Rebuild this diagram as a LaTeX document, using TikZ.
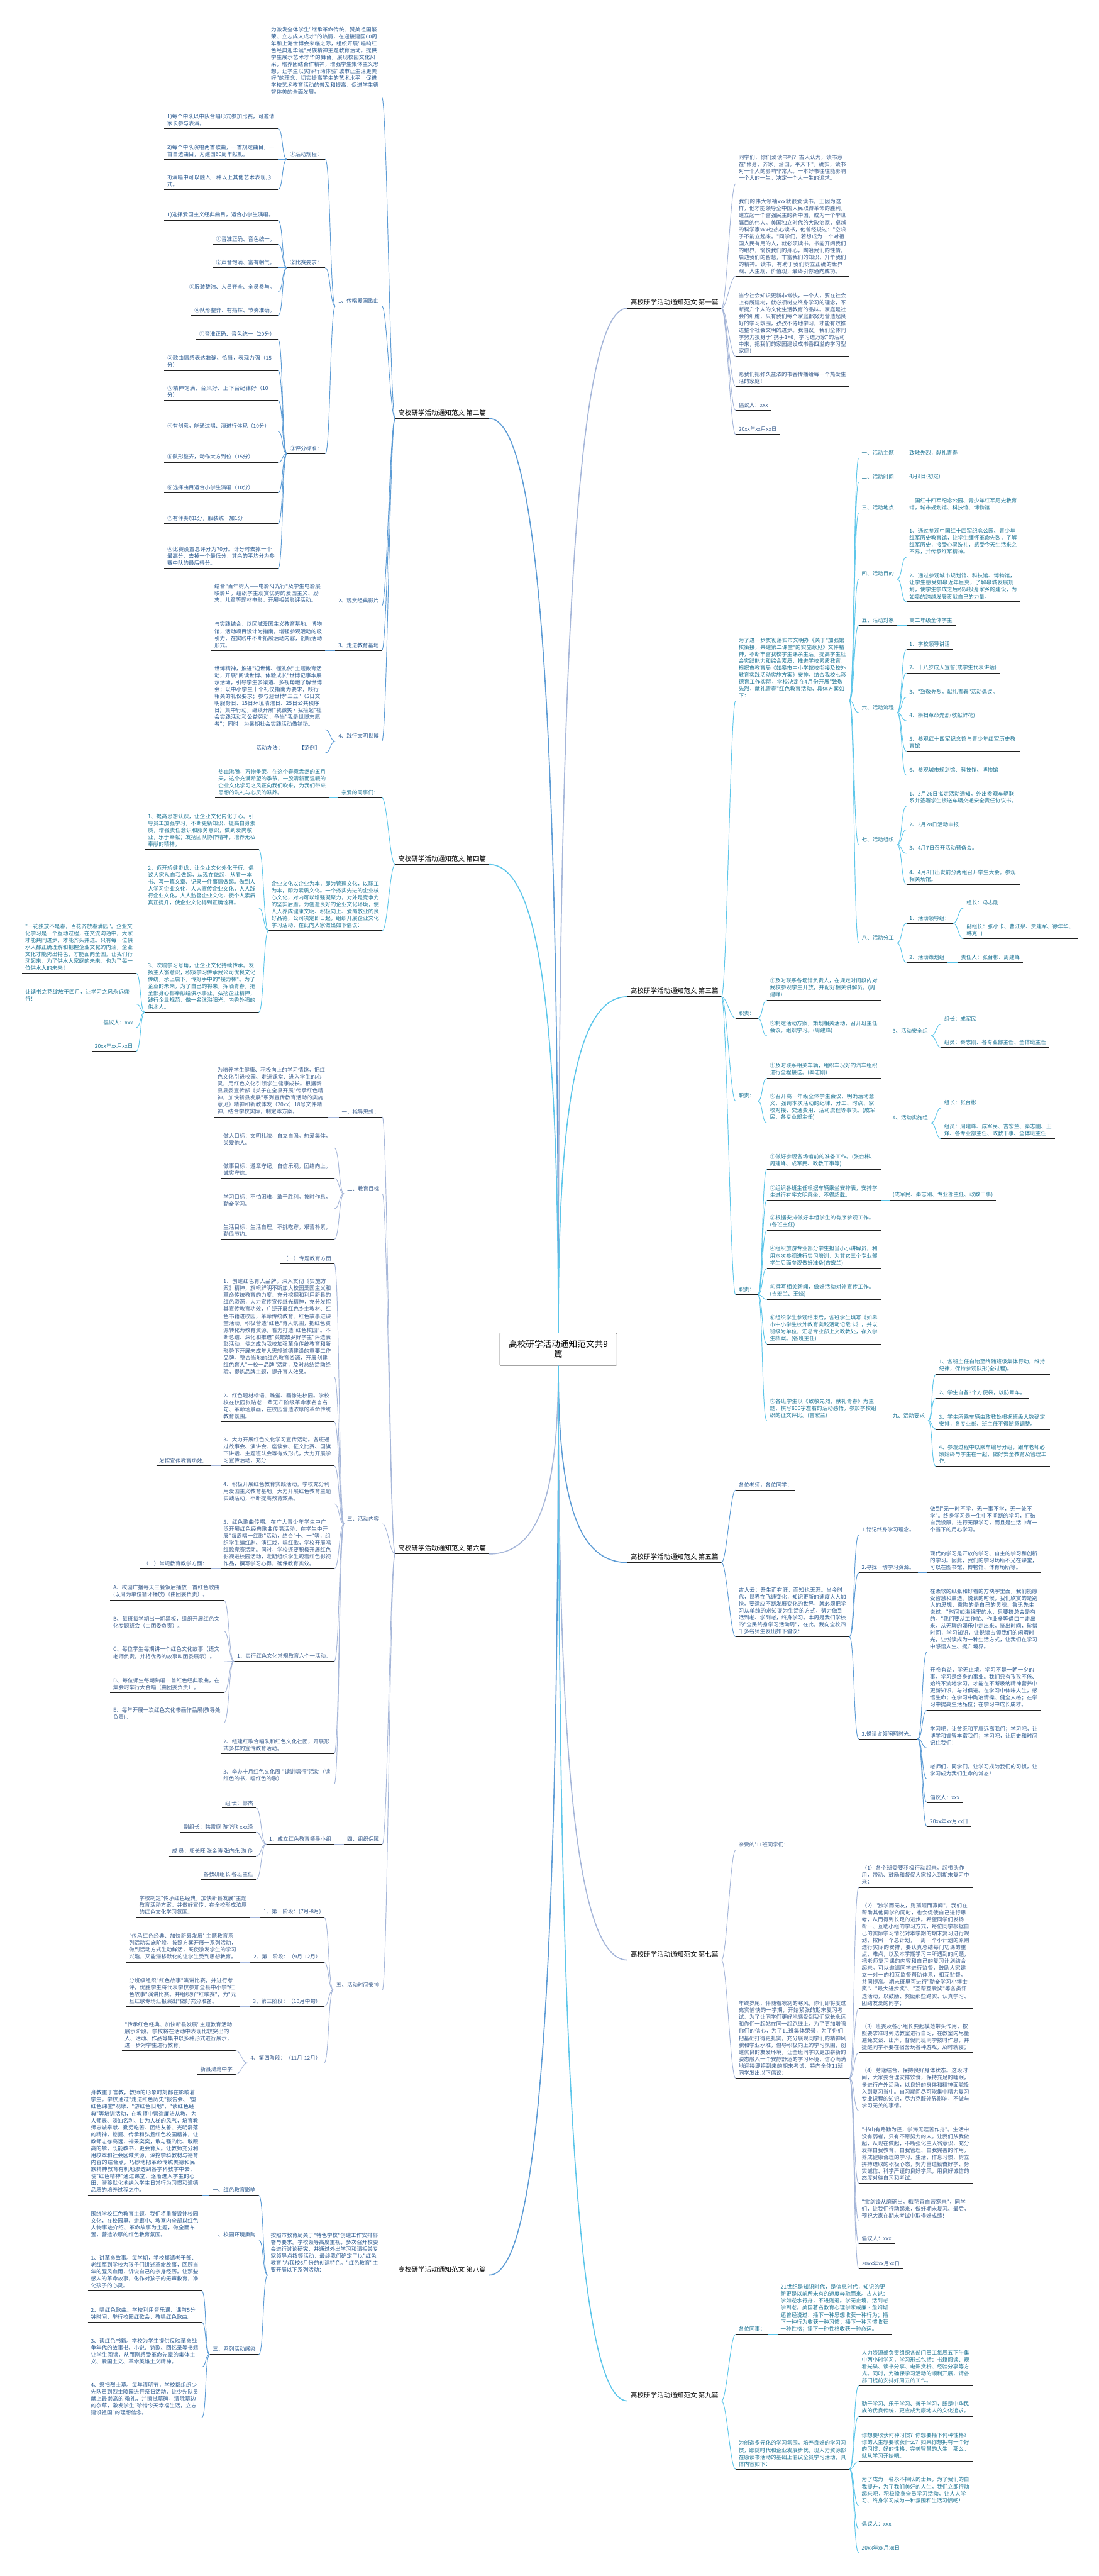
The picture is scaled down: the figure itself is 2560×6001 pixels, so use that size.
\documentclass[tikz,border=0pt]{standalone}
\usepackage{fontspec}
\setmainfont{Noto Sans CJK SC}
\newfontfamily\cjk{Noto Sans CJK SC}
\XeTeXlinebreaklocale "zh"
\XeTeXlinebreakskip=0pt plus 1pt
\newcommand\lf{\cjk\fontsize{12.5}{16.2}\selectfont}
\newcommand\labf{\cjk\fontsize{15.5}{19}\selectfont}
\newcommand\cf{\cjk\fontsize{20}{24}\selectfont}
\definecolor{cB}{HTML}{5B9BD5}
\definecolor{cC}{HTML}{5CC6EA}
\definecolor{cG}{HTML}{A5B6D9}
\definecolor{tB}{HTML}{2B5B92}
\definecolor{tC}{HTML}{1F7696}
\definecolor{tG}{HTML}{3B5E8E}
\newcommand\kR[3]{\draw[#3] (#1.south east) .. controls ([xshift=12pt]#1.south east) and ([xshift=-12pt]#2.south west) .. (#2.south west);}
\newcommand\kL[3]{\draw[#3] (#1.south west) .. controls ([xshift=-12pt]#1.south west) and ([xshift=12pt]#2.south east) .. (#2.south east);}
\tikzset{
 uline/.style={line width=1.5pt, draw=black!88},
 base/.style={inner xsep=7pt, inner ysep=6pt, align=left, font=\lf, append after command={(\tikzlastnode.south west) edge[uline] (\tikzlastnode.south east)}},
 R/.style={base, anchor=south west},
 L/.style={base, anchor=south east},
 tw/.style={text width=251pt},
 tww/.style={text width=#1},
 lab/.style={font=\labf, text=black},
 tb/.style={text=tB}, tc/.style={text=tC}, tg/.style={text=tG},
 kb/.style={draw=cB, line width=1.4pt},
 kc/.style={draw=cC, line width=1.4pt},
 kg/.style={draw=cG, line width=1.4pt},
 brb/.style={draw=cB, line width=2.4pt},
 brc/.style={draw=cC, line width=2.4pt},
 brg/.style={draw=cG, line width=2.4pt},
}
\begin{document}
\begin{tikzpicture}[x=1pt,y=1pt]
\fill[white] (0,0) rectangle (2560,-6001);
\useasboundingbox (0,0) rectangle (2560,-6001);

% ---------- center ----------
\node[draw=black!55, line width=1pt, rounded corners=2pt, minimum width=273pt, minimum height=76pt, font=\cf, align=center, inner sep=6pt] (C) at (1301,-3143) {高校研学活动通知范文共9\\篇};

% ---------- branch labels ----------
\node[R,lab] (L1) at (1462,-718) {高校研学活动通知范文 第一篇};
\node[L,lab] (L2) at (1140,-975) {高校研学活动通知范文 第二篇};
\node[R,lab] (L3) at (1462,-2322) {高校研学活动通知范文 第三篇};
\node[L,lab] (L4) at (1140,-2014) {高校研学活动通知范文 第四篇};
\node[R,lab] (L5) at (1462,-3640) {高校研学活动通知范文 第五篇};
\node[L,lab] (L6) at (1140,-3620) {高校研学活动通知范文 第六篇};
\node[R,lab] (L7) at (1462,-4566) {高校研学活动通知范文 第七篇};
\node[L,lab] (L8) at (1140,-5300) {高校研学活动通知范文 第八篇};
\node[R,lab] (L9) at (1462,-5593) {高校研学活动通知范文 第九篇};

\draw[brg] (C.north) .. controls +(0,1552) and +(-121,0) .. (L1.south west);
\draw[brb] (C.north) .. controls +(0,1385) and +(121,0) .. (L2.south east);
\draw[brc] (C.north) .. controls +(0,509) and +(-121,0) .. (L3.south west);
\draw[brc] (C.north) .. controls +(0,709) and +(121,0) .. (L4.south east);
\draw[brb] (C.south) .. controls +(0,-298) and +(-121,0) .. (L5.south west);
\draw[brg] (C.south) .. controls +(0,-285) and +(121,0) .. (L6.south east);
\draw[brg] (C.south) .. controls +(0,-900) and +(-121,0) .. (L7.south west);
\draw[brb] (C.south) .. controls +(0,-1377) and +(121,0) .. (L8.south east);
\draw[brc] (C.south) .. controls +(0,-1568) and +(-121,0) .. (L9.south west);

% ---------- 第一篇 ----------
\node[R,tg,tw] (a1) at (1714,-428) {同学们，你们爱读书吗？古人认为，读书意在"修身，齐家，治国，平天下"。确实，读书对一个人的影响非常大。一本好书往往能影响一个人的一生，决定一个人一生的追求。};
\node[R,tg,tw] (a2) at (1714,-644) {我们的伟大领袖xxx就很爱读书。正因为这样，他才能领导全中国人民取得革命的胜利，建立起一个富强民主的新中国，成为一个举世瞩目的伟人。美国独立时代的大政治家，卓越的科学家xxx也热心读书，他曾经说过："空袋子不能立起来。"同学们，若想成为一个对祖国人民有用的人，就必须读书。书能开阔我们的眼界，愉悦我们的身心，陶冶我们的性情，启迪我们的智慧，丰富我们的知识，升华我们的精神。读书，有助于我们树立正确的世界观、人生观、价值观，最终引你通向成功。};
\node[R,tg,tw] (a3) at (1714,-830) {当今社会知识更新非常快，一个人，要在社会上有所建树，就必须树立终身学习的理念，不断提升个人的文化生活教育的品味。家庭是社会的细胞，只有我们每个家庭都努力营造起良好的学习氛围，孜孜不倦地学习，才能有效推进整个社会文明的进步。我倡议，我们全体同学努力投身于"携手1+6，学习进万家"的活动中来，把我们的家园建设成书香四溢的学习型家庭！};
\node[R,tg,tw] (a4) at (1714,-900) {愿我们把弥久益浓的书香传播给每一个热爱生活的家庭！};
\node[R,tg] (a5) at (1714,-956) {倡议人：xxx};
\node[R,tg] (a6) at (1714,-1012) {20xx年xx月xx日};
\foreach \n in {a1,a2,a3,a4,a5,a6} {\kR{L1}{\n}{kg}}

% ---------- 第三篇 ----------
\node[R,tc,tw] (b0) at (1714,-1633) {为了进一步贯彻落实市文明办《关于"加强馆校衔接，共建第二课堂"的实施意见》文件精神，不断丰富我校学生课余生活，提高学生社会实践能力和综合素质，推进学校素质教育，根据市教育局《如皋市中小学馆校衔接及校外教育实践活动实施方案》安排，结合我校七彩德育工作实际，学校决定在4月份开展"致敬先烈，献礼青春"红色教育活动，具体方案如下：};
\node[R,tc] (t1) at (2001,-1067) {一、活动主题};
\node[R,tc] (t1a) at (2112,-1067) {致敬先烈，献礼青春};
\node[R,tc] (t2) at (2001,-1123) {二、活动时间};
\node[R,tc] (t2a) at (2112,-1123) {4月8日(初定)};
\node[R,tc] (t3) at (2001,-1195) {三、活动地点};
\node[R,tc,tw] (t3a) at (2112,-1195) {中国红十四军纪念公园、青少年红军历史教育馆，城市规划馆、科技馆、博物馆};
\node[R,tc] (t4) at (2001,-1349) {四、活动目的};
\node[R,tc,tw] (t4a) at (2112,-1298) {1、通过参观中国红十四军纪念公园、青少年红军历史教育馆，让学生缅怀革命先烈，了解红军历史，接受心灵洗礼，感受今天生活来之不易，并传承红军精神。};
\node[R,tc,tw] (t4b) at (2112,-1402) {2、通过参观城市规划馆、科技馆、博物馆，让学生感受如皋近年巨变，了解皋城发展规划，使学生学成之后积极投身家乡的建设，为如皋的跨越发展贡献自己的力量。};
\node[R,tc] (t5) at (2001,-1457) {五、活动对象};
\node[R,tc] (t5a) at (2112,-1457) {高二年级全体学生};
\node[R,tc] (t6) at (2001,-1660) {六、活动流程};
\node[R,tc] (t6a) at (2112,-1513) {1、学校领导讲话};
\node[R,tc] (t6b) at (2112,-1568) {2、十八岁成人宣誓(或学生代表讲话)};
\node[R,tc] (t6c) at (2112,-1624) {3、"致敬先烈，献礼青春"活动倡议。};
\node[R,tc] (t6d) at (2112,-1679) {4、祭扫革命先烈(敬献鲜花)};
\node[R,tc,tw] (t6e) at (2112,-1750) {5、参观红十四军纪念馆与青少年红军历史教育馆};
\node[R,tc] (t6f) at (2112,-1806) {6、参观城市规划馆、科技馆、博物馆};
\node[R,tc] (t7) at (2001,-1968) {七、活动组织};
\node[R,tc,tw] (t7a) at (2112,-1878) {1、3月26日拟定活动通知，外出参观车辆联系并签署学生接送车辆交通安全责任协议书。};
\node[R,tc] (t7b) at (2112,-1933) {2、3月28日活动申报};
\node[R,tc] (t7c) at (2112,-1988) {3、4月7日召开活动预备会。};
\node[R,tc,tw] (t7d) at (2112,-2060) {4、4月8日出发前分两组召开学生大会。参观相关场馆。};
\node[R,tc] (t8) at (2001,-2197) {八、活动分工};
\node[R,tc] (t8a) at (2112,-2151) {1、活动领导组：};
\node[R,tc] (t8a1) at (2245,-2115) {组长：冯志刚};
\node[R,tc,tw] (t8a2) at (2245,-2187) {副组长：张小卡、曹江泉、贾建军、徐年华、韩克山};
\node[R,tc] (t8b) at (2112,-2242) {2、活动策划组};
\node[R,tc] (t8b1) at (2232,-2242) {责任人：张台彬、周建峰};
\kR{L3}{b0}{kc}
\foreach \n in {t1,t2,t3,t4,t5,t6,t7,t8} {\kR{b0}{\n}{kc}}
\kR{t1}{t1a}{kc} \kR{t2}{t2a}{kc} \kR{t3}{t3a}{kc} \kR{t5}{t5a}{kc}
\kR{t4}{t4a}{kc} \kR{t4}{t4b}{kc}
\foreach \n in {t6a,t6b,t6c,t6d,t6e,t6f} {\kR{t6}{\n}{kc}}
\foreach \n in {t7a,t7b,t7c,t7d} {\kR{t7}{\n}{kc}}
\kR{t8}{t8a}{kc} \kR{t8}{t8b}{kc} \kR{t8a}{t8a1}{kc} \kR{t8a}{t8a2}{kc} \kR{t8b}{t8b1}{kc}

\node[R,tc] (z1) at (1714,-2372) {职责：};
\node[R,tc,tw] (z1a) at (1787,-2330) {①及时联系各场馆负责人，在规定时间段内对我校参观学生开放，并配好相关讲解员。(周建峰)};
\node[R,tc,tw] (z1b) at (1787,-2413) {②制定活动方案，策划相关活动，召开班主任会议，组织学习。(周建峰)};
\node[R,tc] (s3) at (2073,-2413) {3、活动安全组};
\node[R,tc] (s3a) at (2193,-2386) {组长：成军民};
\node[R,tc] (s3b) at (2193,-2440) {组员：秦志刚、各专业部主任、全体班主任};
\node[R,tc] (z2) at (1714,-2565) {职责：};
\node[R,tc,tw] (z2a) at (1787,-2512) {①及时联系相关车辆，组织车况好的汽车组织进行全程接送。(秦志刚)};
\node[R,tc,tw] (z2b) at (1787,-2616) {②召开高一年级全体学生会议，明确活动意义，强调本次活动的纪律、分工、时点、家校对接、交通费用、活动流程等事项。(成军民、各专业部主任)};
\node[R,tc] (s4) at (2073,-2616) {4、活动实施组};
\node[R,tc] (s4a) at (2193,-2581) {组长：张台彬};
\node[R,tc,tw] (s4b) at (2193,-2653) {组员：周建峰、成军民、吉宏兰、秦志刚、王烽、各专业部主任、政教干事、全体班主任};
\node[R,tc] (z3) at (1714,-3016) {职责：};
\node[R,tc,tw] (z3a) at (1787,-2724) {①做好参观各场馆前的准备工作。(张台彬、周建峰、成军民、政教干事等)};
\node[R,tc,tw] (z3b) at (1787,-2796) {②组织各班主任根据车辆乘坐安排表，安排学生进行有序文明乘坐，不得超载。};
\node[R,tc] (z3b1) at (2073,-2796) {(成军民、秦志刚、专业部主任、政教干事)};
\node[R,tc,tw] (z3c) at (1787,-2867) {③根据安排做好本组学生的有序参观工作。(各班主任)};
\node[R,tc,tw] (z3d) at (1787,-2955) {④组织旅游专业部分学生担当小小讲解员，利用本次参观进行实习培训，为其它三个专业部学生后面参观做好准备(吉宏兰)};
\node[R,tc,tw] (z3e) at (1787,-3027) {⑤撰写相关新闻，做好活动对外宣传工作。(吉宏兰、王烽)};
\node[R,tc,tw] (z3f) at (1787,-3131) {⑥组织学生参观结束后，各班学生填写《如皋市中小学生校外教育实践活动记载卡》，并以班级为单位，汇总专业部上交政教处，存入学生档案。(各班主任)};
\node[R,tc,tw] (z3g) at (1787,-3310) {⑦各班学生以《致敬先烈，献礼青春》为主题，撰写600字左右的活动感悟，参加学校组织的征文评比。(吉宏兰)};
\node[R,tc] (z3h) at (2073,-3310) {九、活动要求};
\node[R,tc,tw] (z3h1) at (2181,-3202) {1、各班主任自始至终随班级集体行动，维持纪律，保持参观队形(全过程)。};
\node[R,tc] (z3h2) at (2181,-3257) {2、学生自备3个方便袋，以防晕车。};
\node[R,tc,tw] (z3h3) at (2181,-3329) {3、学生所乘车辆由政教处根据班级人数确定安排，各专业部、班主任不得随意调整。};
\node[R,tc,tw] (z3h4) at (2181,-3416) {4、参观过程中以乘车编号分组，跟车老师必须始终与学生在一起，做好安全教育及管理工作。};
\kR{L3}{z1}{kc} \kR{L3}{z2}{kc} \kR{L3}{z3}{kc}
\kR{z1}{z1a}{kc} \kR{z1}{z1b}{kc} \kR{z1b}{s3}{kc} \kR{s3}{s3a}{kc} \kR{s3}{s3b}{kc}
\kR{z2}{z2a}{kc} \kR{z2}{z2b}{kc} \kR{z2b}{s4}{kc} \kR{s4}{s4a}{kc} \kR{s4}{s4b}{kc}
\foreach \n in {z3a,z3b,z3c,z3d,z3e,z3f,z3g} {\kR{z3}{\n}{kc}}
\kR{z3b}{z3b1}{kc} \kR{z3g}{z3h}{kc}
\foreach \n in {z3h1,z3h2,z3h3,z3h4} {\kR{z3h}{\n}{kc}}

% ---------- 第五篇 ----------
\node[R,tb] (f1) at (1714,-3471) {各位老师，各位同学：};
\node[R,tb,tw] (f2) at (1714,-3813) {古人云：吾生而有涯，而知也无涯。当今时代，世界在飞速变化，知识更新的速度大大加快。要适应不断发展变化的世界，就必须把学习从单纯的求知变为生活的方式，努力做到活到老、学到老，终身学习。本周是我们学校的"全民终身学习活动周"，在此，我向全校四千多名师生发出如下倡议：};
\node[R,tb] (f2a) at (2001,-3576) {1.铭记终身学习理念。};
\node[R,tb,tw] (f2a1) at (2160,-3576) {做到"无一时不学，无一事不学，无一处不学"。终身学习是一生中不间断的学习，打破自我设限，进行无限学习，而且是生活中每一个当下的用心学习。};
\node[R,tb] (f2b) at (2001,-3664) {2.寻找一切学习资源。};
\node[R,tb,tw] (f2b1) at (2160,-3664) {现代的学习是开放的学习、自主的学习和创新的学习。因此，我们的学习场所不光在课堂，可以在图书馆、博物馆、体育场所等。};
\node[R,tb] (f2c) at (2001,-4051) {3.悦读占领闲暇时光。};
\node[R,tb,tw] (f2c1) at (2160,-3848) {在柔软的纸张和好看的方块字里面，我们能感受智慧和启迪。悦读的时候，我们欣赏的是别人的思想，熏陶的是自己的灵魂。鲁迅先生说过："时间如海绵里的水，只要挤总会是有的。"我们要从工作忙、作业多等借口中走出来，从无聊的娱乐中走出来，挤出时间，珍惜时间，学习知识，让悦读占领我们的闲暇时光，让悦读成为一种生活方式，让我们在学习中感悟人生、提升境界。};
\node[R,tb,tw] (f2c2) at (2160,-3984) {开卷有益，学无止境。学习不是一朝一夕的事，学习是终身的事业。我们只有孜孜不倦、始终不渝地学习，才能在不断吸纳精神营养中更新知识，与时俱进。在学习中体味人生，感悟生命；在学习中陶冶情操、健全人格；在学习中提高生活品位；在学习中成长成才。};
\node[R,tb,tw] (f2c3) at (2160,-4072) {学习吧，让贫乏和平庸远离我们；学习吧，让博学和睿智丰富我们；学习吧，让历史和时间记住我们！};
\node[R,tb,tw] (f2c4) at (2160,-4144) {老师们，同学们，让学习成为我们的习惯，让学习成为我们生命的常态！};
\node[R,tb] (f2c5) at (2160,-4199) {倡议人：xxx};
\node[R,tb] (f2c6) at (2160,-4255) {20xx年xx月xx日};
\kR{L5}{f1}{kb} \kR{L5}{f2}{kb}
\kR{f2}{f2a}{kb} \kR{f2}{f2b}{kb} \kR{f2}{f2c}{kb}
\kR{f2a}{f2a1}{kb} \kR{f2b}{f2b1}{kb}
\foreach \n in {f2c1,f2c2,f2c3,f2c4,f2c5,f2c6} {\kR{f2c}{\n}{kb}}

% ---------- 第七篇 ----------
\node[R,tg] (g1) at (1714,-4310) {亲爱的'11班同学们：};
\node[R,tg,tw] (g2) at (1714,-4841) {年终岁尾，伴随着凛冽的寒风，你们即将度过充实愉快的一学期，开始紧张的期末复习考试。为了让同学们更好地感受到我们家长永远和你们一起站在同一起跑线上，为了更加增强你们的信心，为了11班集体荣誉，为了你们把基础打得更扎实，充分展现同学们的精神风貌和学业水准，倡导积极向上的学习氛围，创建优良的友爱环境，让全班同学以更加崭新的姿态融入一个安静舒适的学习环境，信心满满地迎接即将到来的期末考试，特向全体11班同学发出以下倡议：};
\node[R,tg,tw] (g2a) at (2001,-4397) {（1）各个班委要积极行动起来，起带头作用，带动、鼓励和督促大家投入到期末复习中来；};
\node[R,tg,tw] (g2b) at (2001,-4679) {（2）"独学而无友，则孤陋而寡闻"，我们在帮助其他同学的同时，也会促使自己进行思考，从而得到长足的进步。希望同学们发扬一帮一、互助小组的学习方式，每位同学根据自己的实际学习情况对本学期的期末复习进行规划，按照一个总计划，一周一个小计划的原则进行实际的安排，要认真总结每门功课的重点、难点，以及本学期学习中所遇到的问题，把老师复习课的内容和自己的复习计划结合起来。可以邀请同学进行监督，鼓励大家建立一对一的相互监督帮助体系，相互监督，共同提高。期末班里可进行"勤奋学习小博士奖"、"最大进步奖"、"互帮互爱奖"等各类评选活动，以鼓励、奖励那些踏实、认真学习、团结友爱的同学；};
\node[R,tg,tw] (g2c) at (2001,-4782) {（3）班委及各小组长要起模范带头作用，按照要求准时到达教室进行自习，在教室内尽量避免交谈、出声，督促同班同学按时作息，并提醒同学不要在宿舍玩各种游戏，及时就寝；};
\node[R,tg,tw] (g2d) at (2001,-4917) {（4）劳逸结合，保持良好身体状态。这段时间，大家要合理安排饮食，保持充足的睡眠，多进行户外活动，以良好的身体和精神面貌投入到复习当中。自习期间尽可能集中精力复习专业课程的知识，尽力克服外界影响，不做与学习无关的事情。};
\node[R,tg,tw] (g2e) at (2001,-5086) {"书山有路勤为径，学海无涯苦作舟"。生活中没有弱者，只有不愿努力的人。让我们从我做起，从现在做起，不断强化主人翁意识，充分发挥自我教育、自我管理、自我完善的作用，养成健康合理的学习、生活、作息习惯，树立拼搏进取的积极心态，努力营造勤奋好学、务实诚信、科学严谨的良好学风，用良好诚信的态度对待自习和考试。};
\node[R,tg,tw] (g2f) at (2001,-5174) {"宝剑锋从磨砺出，梅花香自苦寒来"，同学们，让我们行动起来，做好期末复习。最后，预祝大家在期末考试中取得好成绩！};
\node[R,tg] (g2g) at (2001,-5227) {倡议人：xxx};
\node[R,tg] (g2h) at (2001,-5285) {20xx年xx月xx日};
\kR{L7}{g1}{kg} \kR{L7}{g2}{kg}
\foreach \n in {g2a,g2b,g2c,g2d,g2e,g2f,g2g,g2h} {\kR{g2}{\n}{kg}}

% ---------- 第九篇 ----------
\node[R,tc] (h1) at (1714,-5438) {各位同事：};
\node[R,tc,tw] (h1a) at (1812,-5438) {21世纪是知识时代，是信息时代，知识的更新更是以前所未有的速度奔驰而来。古人说：学如逆水行舟，不进则退。学无止境，活到老学到老。美国著名教育心理学家威廉·詹姆斯还曾经说过：播下一种思想收获一种行为；播下一种行为收获一种习惯；播下一种习惯收获一种性格；播下一种性格收获一种命运。};
\node[R,tc,tw] (h2) at (1714,-5752) {为创造多元化的学习氛围，培养良好的学习习惯，跟随时代和企业发展步伐，现人力资源部在原读书活动的基础上倡议全员学习活动，具体内容如下：};
\node[R,tc,tw] (h2a) at (2001,-5558) {人力资源部负责组织各部门员工每周五下午集中两小时学习，学习形式包括：书籍阅读、观看光碟、读书分享、电影赏析、经验分享等方式。同时，为确保学习活动的顺利开展，请各部门提前安排好周五的工作。};
\node[R,tc,tw] (h2b) at (2001,-5629) {勤于学习、乐于学习、善于学习，既是中华民族的优良传统，更应成为康地人的文化追求。};
\node[R,tc,tw] (h2c) at (2001,-5734) {你想要收获何种习惯？你想要播下何种性格？你的人生想要收获什么？如果你想拥有一个好的习惯，好的性格，完美智慧的人生，那么，就从学习开始吧。};
\node[R,tc,tw] (h2d) at (2001,-5837) {为了成为一名永不掉队的士兵，为了我们的自我提升，为了我们美好的人生，我们立即行动起来吧，积极投身全员学习活动，让人人学习、终身学习成为一种氛围和生活习惯吧！};
\node[R,tc] (h2e) at (2001,-5892) {倡议人：xxx};
\node[R,tc] (h2f) at (2001,-5947) {20xx年xx月xx日};
\kR{L9}{h1}{kc} \kR{L9}{h2}{kc} \kR{h1}{h1a}{kc}
\foreach \n in {h2a,h2b,h2c,h2d,h2e,h2f} {\kR{h2}{\n}{kc}}

% ---------- 第二篇 ----------
\node[L,tb,tw] (p0) at (890,-227) {为激发全体学生"继承革命传统、赞美祖国繁荣、立志成人成才"的热情，在迎接建国60周年和上海世博会来临之际，组织开展"唱响红色经典迎华诞"民族精神主题教育活动。提供学生展示艺术才华的舞台，展现校园文化风采，培养团结合作精神，增强学生集体主义思想，让学生以实际行动体验"城市让生活更美好"的理念，切实提高学生的艺术水平，促进学校艺术教育活动的普及和提高，促进学生德智体美的全面发展。};
\node[L,tb] (p1) at (890,-713) {1、传唱爱国歌曲};
\node[L,tb] (q1) at (758,-371) {①活动规程：};
\node[L,tb] (q2) at (758,-624) {②比赛要求：};
\node[L,tb] (q3) at (758,-1057) {③评分标准：};
\node[L,tb,tw] (q1a) at (648,-300) {1)每个中队以中队合唱形式参加比赛，可邀请家长参与表演。};
\node[L,tb,tw] (q1b) at (648,-371) {2)每个中队演唱两首歌曲，一首规定曲目，一首自选曲目，为建国60周年献礼。};
\node[L,tb,tw] (q1c) at (648,-441) {3)演唱中可以融入一种以上其他艺术表现形式。};
\node[L,tb,tw] (q2a) at (648,-514) {1)选择爱国主义经典曲目，适合小学生演唱。};
\node[L,tb] (q2b) at (648,-569) {①音准正确、音色统一。};
\node[L,tb] (q2c) at (648,-624) {②声音饱满、富有朝气。};
\node[L,tb] (q2d) at (648,-680) {③服装整洁、人员齐全、全员参与。};
\node[L,tb] (q2e) at (648,-735) {④队形整齐、有指挥、节奏准确。};
\node[L,tb] (q3a) at (648,-791) {①音准正确、音色统一（20分）};
\node[L,tb,tw] (q3b) at (648,-863) {②歌曲情感表达准确、恰当，表现力强（15分）};
\node[L,tb,tw] (q3c) at (648,-933) {③精神饱满，台风好、上下台纪律好（10分）};
\node[L,tb,tw] (q3d) at (648,-1005) {④有创意，能通过唱、演进行体现（10分）};
\node[L,tb,tw] (q3e) at (648,-1077) {⑤队形整齐，动作大方到位（15分）};
\node[L,tb,tw] (q3f) at (648,-1148) {⑥选择曲目适合小学生演唱（10分）};
\node[L,tb,tw] (q3g) at (648,-1220) {⑦有伴奏加1分，服装统一加1分};
\node[L,tb,tw] (q3h) at (648,-1324) {⑧比赛设置总评分为70分。计分时去掉一个最高分，去掉一个最低分，其余的平均分为参赛中队的最后得分。};
\node[L,tb] (p2) at (890,-1411) {2、观赏经典影片};
\node[L,tb,tw] (p2a) at (758,-1411) {结合"百年树人——电影阳光行"及学生电影展映影片，组织学生观赏优秀的爱国主义、励志、儿童等题材电影，开展相关影评活动。};
\node[L,tb] (p3) at (890,-1515) {3、走进教育基地};
\node[L,tb,tw] (p3a) at (758,-1515) {与实践结合，以区域爱国主义教育基地、博物馆，活动项目设计为指南，增强参观活动的吸引力，在实践中不断拓展活动内容，创新活动形式。};
\node[L,tb] (p4) at (890,-1727) {4、践行文明世博};
\node[L,tb,tw] (p4a) at (758,-1700) {世博精神，推进"迎世博、懂礼仪"主题教育活动，开展"阅读世博、体验成长"世博记事本展示活动，引导学生多渠道、多视角地了解世博会；以中小学生十个礼仪指南为要求，践行相关的礼仪要求；参与迎世博"三五"（5日文明服务日、15日环境清洁日、25日公共秩序日）集中行动，继续开展"我微笑·我捡起"社会实践活动和公益劳动，争当"我是世博志愿者"；同时，为暑期社会实践活动做铺垫。};
\node[L,tb] (p4b) at (758,-1754) {【范例】-};
\node[L,tb] (p4c) at (667,-1754) {活动办法：};
\kL{L2}{p0}{kb} \kL{L2}{p1}{kb} \kL{L2}{p2}{kb} \kL{L2}{p3}{kb} \kL{L2}{p4}{kb}
\kL{p1}{q1}{kb} \kL{p1}{q2}{kb} \kL{p1}{q3}{kb}
\foreach \n in {q1a,q1b,q1c} {\kL{q1}{\n}{kb}}
\foreach \n in {q2a,q2b,q2c,q2d,q2e} {\kL{q2}{\n}{kb}}
\foreach \n in {q3a,q3b,q3c,q3d,q3e,q3f,q3g,q3h} {\kL{q3}{\n}{kb}}
\kL{p2}{p2a}{kb} \kL{p3}{p3a}{kb} \kL{p4}{p4a}{kb} \kL{p4}{p4b}{kb} \kL{p4b}{p4c}{kb}

% ---------- 第四篇 ----------
\node[L,tc] (r1) at (890,-1858) {亲爱的同事们：};
\node[L,tc,tw] (r1a) at (767,-1858) {热血沸腾，万物争荣，在这个春意盎然的五月天，这个充满希望的季节，一股清新而温暖的企业文化学习之风正向我们吹来，为我们带来思想的洗礼与心灵的滋养。};
\node[L,tc,tw] (r2) at (891,-2168) {企业文化以企业为本，即为管理文化，以职工为本，即为素质文化。一个务实先进的企业核心文化，对内可以增强凝聚力，对外是竞争力的坚实后盾。为创造良好的企业文化环境，使人人养成健康文明、积极向上、爱岗敬业的良好品德，公司决定即日起，组织开展企业文化学习活动，在此向大家做出如下倡议：};
\node[L,tc,tw] (r2a) at (603,-1979) {1、提高思想认识，让企业文化内化于心。引导员工加强学习，不断更新知识，提高自身素质，增强责任意识和服务意识，做到爱岗敬业，乐于奉献；发扬团队协作精神，培养无私奉献的精神。};
\node[L,tc,tw] (r2b) at (603,-2115) {2、迈开矫健步伐，让企业文化外化于行。倡议大家从自我做起，从现在做起，从看一本书、写一篇文章、记录一件事情做起。做到人人学习企业文化，人人宣传企业文化，人人践行企业文化，人人监督企业文化，使个人素质真正提升，使企业文化得到正确诠释。};
\node[L,tc,tw] (r2c) at (603,-2358) {3、吹响学习号角，让企业文化持续传承。发扬主人翁意识，积极学习传承我公司优良文化传统，承上启下，传好手中的"接力棒"。为了企业的未来，为了自己的将来，挥洒青春，把全部身心都奉献给供水事业，弘扬企业精神，践行企业规范，做一名沐浴阳光、内秀外强的供水人。};
\node[L,tc,tw] (r2c1) at (317,-2267) {"一花独放不是春，百花齐放春满园"。企业文化学习是一个互动过程，在交流沟通中，大家才能共同进步，才能齐头并进。只有每一位供水人都正确理解和把握企业文化的内涵，企业文化才能秀出特色，才能面向全国。让我们行动起来，为了供水大家庭的未来，也为了每一位供水人的未来！};
\node[L,tc,tw] (r2c2) at (317,-2339) {让读书之花绽放于四月，让学习之风永远盛行！};
\node[L,tc] (r2c3) at (317,-2394) {倡议人：xxx};
\node[L,tc] (r2c4) at (317,-2449) {20xx年xx月xx日};
\kL{L4}{r1}{kc} \kL{L4}{r2}{kc} \kL{r1}{r1a}{kc}
\kL{r2}{r2a}{kc} \kL{r2}{r2b}{kc} \kL{r2}{r2c}{kc}
\foreach \n in {r2c1,r2c2,r2c3,r2c4} {\kL{r2c}{\n}{kc}}

% ---------- 第六篇 ----------
\node[L,tg] (s1) at (891,-2602) {一、指导思想：};
\node[L,tg,tw] (s1a) at (765,-2602) {为培养学生健康、积极向上的学习情趣，把红色文化引进校园、走进课堂、进入学生的心灵，用红色文化引领学生健康成长。根据新县县委宣传部《关于在全县开展"传承红色精神，加快新县发展"系列宣传教育活动的实施意见》精神和新教体发（20xx）18号文件精神，结合学校实际，制定本方案。};
\node[L,tg] (s2) at (891,-2781) {二、教育目标};
\node[L,tg,tw] (s2a) at (779,-2674) {做人目标：文明礼貌，自立自强。热爱集体，关爱他人。};
\node[L,tg,tw] (s2b) at (779,-2745) {做事目标：遵章守纪，自信乐观。团结向上。诚实守信。};
\node[L,tg,tw] (s2c) at (779,-2816) {学习目标：不怕困难，敢于胜利。按时作息，勤奋学习。};
\node[L,tg,tw] (s2d) at (779,-2887) {生活目标：生活自理，不挑吃穿。艰苦朴素，勤俭节约。};
\node[L,tg] (sC) at (891,-3550) {三、活动内容};
\node[L,tg] (c0) at (779,-2944) {（一）专题教育方面};
\node[L,tg,tw] (c1) at (779,-3208) {1、创建红色育人品牌。深入贯彻《实施方案》精神，旗帜鲜明不断加大校园爱国主义和革命传统教育的力度。充分挖掘和利用新县的红色资源，大力宣传宣传继光精神，充分发挥其宣传教育功效，广泛开展红色乡土教材、红色书籍进校园，革命传统教育、红色故事进课堂活动，积极营造"红色"育人氛围，把红色资源转化为教育资源，着力打造"红色校园"。不断总结、深化和推进"英雄故乡好学生"评选表彰活动，使之成为我校加强革命传统教育和新形势下开展未成年人思想道德建设的重要工作品牌。整合当地的红色教育资源，开展创建红色育人"一校一品牌"活动，及时总结活动经验，提炼品牌主题，提升育人效果。};
\node[L,tg,tw] (c2) at (779,-3312) {2、红色题材标语、雕塑、画像进校园。学校校在校园张贴老一辈无产阶级革命家名言名句、革命场景画，在校园营造浓厚的革命传统教育氛围。};
\node[L,tg,tw] (c3) at (779,-3415) {3、大力开展红色文化学习宣传活动。各班通过故事会、演讲会、座谈会、征文比赛、国旗下讲话、主题班队会等有效形式，大力开展学习宣传活动，充分};
\node[L,tg] (c3x) at (491,-3415) {发挥宣传教育功效。};
\node[L,tg,tw] (c4) at (779,-3503) {4、积极开展红色教育实践活动。学校充分利用爱国主义教育基地，大力开展红色教育主题实践活动，不断提高教育效果。};
\node[L,tg,tw] (c5) at (779,-3655) {5、红色歌曲传唱。在广大青少年学生中广泛开展红色经典歌曲传唱活动，在学生中开展"每周唱一红歌"活动，结合"十、一"等，组织学生编红剧、演红戏，唱红歌，学校开展唱红歌竞赛活动。同时，学校还要积极开展红色影视进校园活动，定期组织学生观看红色影视作品，撰写学习心得，确保教育实效。};
\node[L,tg] (c5x) at (491,-3655) {（二）常规教育教学方面：};
\node[L,tg] (c6) at (779,-3870) {1、实行红色文化常规教育六个一活动。};
\node[L,tg,tw] (c6a) at (522,-3728) {A、校园广播每天三餐饭后播放一首红色歌曲(以周为单位循环播放)（由团委负责）。};
\node[L,tg,tw] (c6b) at (522,-3800) {B、每班每学期出一期黑板，组织开展红色文化专题班会（由团委负责）。};
\node[L,tg,tw] (c6c) at (522,-3871) {C、每位学生每期讲一个红色文化故事（语文老师负责，并将优秀的故事叫团委展示）。};
\node[L,tg,tw] (c6d) at (522,-3943) {D、每位师生每期熟唱一首红色经典歌曲，在集会时举行大合唱（由团委负责）。};
\node[L,tg,tw] (c6e) at (522,-4013) {E、每年开展一次红色文化书画作品展(教导处负责)。};
\node[L,tg,tw] (c7) at (779,-4085) {2、组建红歌合唱队和红色文化社团，开展形式多样的宣传教育活动。};
\node[L,tg,tw] (c8) at (779,-4156) {3、举办十月红色文化周 "读讲唱行"活动（读红色的书，唱红色的歌）};
\node[L,tg] (sD) at (891,-4296) {四、组织保障};
\node[L,tg] (d1) at (779,-4296) {1、成立红色教育领导小组};
\node[L,tg] (d1a) at (597,-4212) {组 长：邹杰};
\node[L,tg] (d1b) at (597,-4268) {副组长：韩雷庭 游华欣 xxx泽};
\node[L,tg] (d1c) at (597,-4324) {成 员：邬长旺 张金涛 张向永 游 伶};
\node[L,tg] (d1d) at (597,-4378) {各教研组长 各班主任};
\node[L,tg] (sE) at (891,-4636) {五、活动时间安排};
\node[L,tg] (e1) at (755,-4466) {1、第一阶段：(7月-8月)};
\node[L,tg,tw] (e1a) at (583,-4466) {学校制定"传承红色经典，加快新县发展"主题教育活动方案，并做好宣传，在全校形成浓厚的红色文化学习氛围。};
\node[L,tg] (e2) at (755,-4571) {2、第二阶段：（9月-12月）};
\node[L,tg,tw] (e2a) at (559,-4571) {"传承红色经典、加快新县发展' 主题教育系列活动实施阶段。按照方案开展一系列活动，做到活动方式生动鲜活，既使激发学生的学习兴趣，又能潜移默化的让学生受到思想教育。};
\node[L,tg] (e3) at (755,-4674) {3、第三阶段：（10月中旬）};
\node[L,tg,tw] (e3a) at (559,-4674) {分班级组织"红色故事"演讲比赛，并进行考评，优胜学生将代表学校参加全县中小学"红色故事"演讲比赛。并组织好"红歌赛"，为"元旦红歌专场汇报演出"做好充分准备。};
\node[L,tg] (e4) at (755,-4806) {4、第四阶段：（11月-12月）};
\node[L,tg,tw] (e4a) at (549,-4777) {"传承红色经典、加快新县发展"主题教育活动展示阶段。学校将在活动中表现比较突出的人、活动、作品等集中以多种形式进行展示，进一步对学生进行教育。};
\node[L,tg] (e4b) at (549,-4832) {新县浒湾中学};
\kL{L6}{s1}{kg} \kL{L6}{s2}{kg} \kL{L6}{sC}{kg} \kL{L6}{sD}{kg} \kL{L6}{sE}{kg}
\kL{s1}{s1a}{kg}
\foreach \n in {s2a,s2b,s2c,s2d} {\kL{s2}{\n}{kg}}
\foreach \n in {c0,c1,c2,c3,c4,c5,c6,c7,c8} {\kL{sC}{\n}{kg}}
\kL{c3}{c3x}{kg} \kL{c5}{c5x}{kg}
\foreach \n in {c6a,c6b,c6c,c6d,c6e} {\kL{c6}{\n}{kg}}
\kL{sD}{d1}{kg}
\foreach \n in {d1a,d1b,d1c,d1d} {\kL{d1}{\n}{kg}}
\kL{sE}{e1}{kg} \kL{sE}{e2}{kg} \kL{sE}{e3}{kg} \kL{sE}{e4}{kg}
\kL{e1}{e1a}{kg} \kL{e2}{e2a}{kg} \kL{e3}{e3a}{kg} \kL{e4}{e4a}{kg} \kL{e4}{e4b}{kg}

% ---------- 第八篇 ----------
\node[L,tb,tw] (u0) at (889,-5300) {按照市教育局关于"特色学校"创建工作安排部署与要求。学校领导高度重视，多次召开校委会进行讨论研究，并通过外出学习和请相关专家领导点拨等活动，最终我们确定了以"红色教育"为我校6月份的创建特色。"红色教育"主要开展以下系列活动：};
\node[L,tb] (u1) at (603,-5114) {一、红色教育影响};
\node[L,tb,tw] (u1a) at (470,-5114) {身教重于言教，教师的形象时刻都在影响着学生。学校通过"走进红色历史"报告会、"塑红色课堂"观摩、"游红色旧地"、"读红色经典"等培训活动，在教师中营造廉洁从教、为人师表、淡泊名利、甘为人梯的风气，培育教师忠诚奉献、勤劳吃苦、团结友善、光明磊落的精神，挖掘、传承和弘扬红色校园精神，让教师志存高远，神采奕奕，敢与强的比、敢跟高的攀，既能教书，更会育人。让教师充分利用校本和社会区域资源，深挖学科教材与德育内容的结合点，巧妙地把革命传统美德和民族精神教育有机地渗透到各学科教学中去，使"红色精神"通过课堂，逐渐进入学生的心田，潜移默化地纳入学生日常行为习惯和道德品质的培养过程之中。};
\node[L,tb] (u2) at (603,-5218) {二、校园环境熏陶};
\node[L,tb,tw] (u2a) at (470,-5218) {围绕学校红色教育主题，我们将重新设计校园文化，在校园里、走廊中、教室内全部以红色人物事迹介绍、革命故事为主题，做全面布置，营造浓厚的红色教育氛围。};
\node[L,tb] (u3) at (603,-5485) {三、系列活动感染};
\node[L,tb,tw] (u3a) at (470,-5337) {1、讲革命故事。每学期，学校都请老干部、老红军到学校为孩子们讲述革命故事，回顾当年的腥风血雨，诉说自己的亲身经历。让那些感人的革命故事，化作对孩子的无声教育，净化孩子的心灵。};
\node[L,tb,tw] (u3b) at (470,-5410) {2、唱红色歌曲。学校利用音乐课、课前5分钟时间，举行校园红歌会，教唱红色歌曲。};
\node[L,tb,tw] (u3c) at (470,-5514) {3、读红色书籍。学校为学生提供反映革命战争年代的故事书、小说、诗歌、回忆录等书籍让学生阅读，从而刚感受革命先辈的集体主义、爱国主义、革命英雄主义精神。};
\node[L,tb,tw] (u3d) at (470,-5632) {4、祭扫烈士墓。每年清明节，学校都组织少先队员到烈士陵园进行祭扫活动，让少先队员献上最崇高的'敬礼，并擦拭墓碑，清除墓边的杂草，激发学生"珍惜今天幸福生活，立志建设祖国"的理想信念。};
\kL{L8}{u0}{kb}
\kL{u0}{u1}{kb} \kL{u0}{u2}{kb} \kL{u0}{u3}{kb}
\kL{u1}{u1a}{kb} \kL{u2}{u2a}{kb}
\foreach \n in {u3a,u3b,u3c,u3d} {\kL{u3}{\n}{kb}}
\end{tikzpicture}
\end{document}
